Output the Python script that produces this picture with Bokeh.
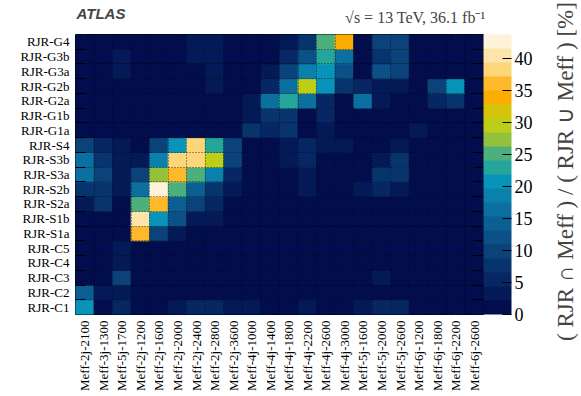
from math import pi
from bokeh.plotting import figure
from bokeh.models import (ColumnDataSource, LinearColorMapper, ColorBar, FixedTicker,
                          LinearAxis, Label, Range1d, Grid)
from bokeh.transform import transform
from bokeh.embed import file_html
from bokeh.resources import INLINE

x_labels = ["Meff-2j-2100", "Meff-3j-1300", "Meff-5j-1700", "Meff-2j-1200", "Meff-2j-1600",
            "Meff-2j-2000", "Meff-2j-2400", "Meff-2j-2800", "Meff-2j-3600", "Meff-4j-1000",
            "Meff-4j-1400", "Meff-4j-1800", "Meff-4j-2200", "Meff-4j-2600", "Meff-4j-3000",
            "Meff-5j-1600", "Meff-5j-2000", "Meff-5j-2600", "Meff-6j-1200", "Meff-6j-1800",
            "Meff-6j-2200", "Meff-6j-2600"]

y_labels = ["RJR-C1", "RJR-C2", "RJR-C3", "RJR-C4", "RJR-C5", "RJR-S1a", "RJR-S1b",
            "RJR-S2a", "RJR-S2b", "RJR-S3a", "RJR-S3b", "RJR-S4", "RJR-G1a", "RJR-G1b",
            "RJR-G2a", "RJR-G2b", "RJR-G3a", "RJR-G3b", "RJR-G4"]

# overlap [%] per RJR region, one value per Meff region (x_labels order)
rjr_c1  = [20.5, 2, 5.5, 1, 1, 3, 5.5, 5, 4, 3, 2, 2, 3, 2, 2, 3, 6, 6, 1, 1, 1, 1]
rjr_c2  = [14.3, 3, 4, 1, 1, 1, 1, 1, 1, 1, 1, 1, 1, 1, 1, 1, 2, 2, 1, 1, 1, 1]
rjr_c3  = [1, 2, 9, 1, 1, 1, 1, 1, 1, 1, 1, 1, 1, 1, 1, 1, 3, 1, 1, 1, 1, 1]
rjr_c4  = [1, 2, 4, 1, 1, 1, 1, 1, 1, 1, 1, 1, 1, 1, 1, 1, 2, 1, 1, 1, 1, 1]
rjr_c5  = [1, 2, 4, 1, 1, 1, 1, 1, 1, 1, 1, 1, 1, 1, 1, 1, 1, 1, 1, 1, 1, 1]
rjr_s1a = [2, 2, 2, 36, 10, 4, 2, 2, 1, 1, 1, 1, 1, 1, 1, 1, 1, 1, 1, 1, 1, 1]
rjr_s1b = [2, 2, 2, 40.5, 21, 11, 4, 3, 2, 1, 1, 1, 1, 1, 1, 1, 1, 1, 1, 1, 1, 1]
rjr_s2a = [4, 8, 2, 25, 36, 14.3, 10, 5, 2, 1, 1, 1, 2, 1, 1, 1, 2, 2, 1, 1, 1, 1]
rjr_s2b = [7, 7, 3, 16.5, 43, 25, 14.3, 8, 3, 1, 1, 2, 3, 1, 1, 3, 5, 4, 1, 1, 1, 1]
rjr_s3a = [16.5, 9, 4, 9, 27.4, 36, 25, 18.6, 6, 1, 1, 2, 4, 2, 1, 1, 7, 8, 1, 1, 1, 1]
rjr_s3b = [16.5, 7, 4, 4, 18.6, 38.3, 38.3, 29.6, 10, 1, 2, 3, 6, 2, 2, 1, 4, 7, 1, 1, 1, 1]
rjr_s4  = [10, 6, 3, 2, 10, 21, 38.3, 23, 10, 1, 1, 3, 5.5, 3, 3, 1, 1, 4, 1, 1, 1, 1]
rjr_g1a = [1, 1, 1, 1, 1, 1, 1, 1, 1, 8, 5, 7.5, 1, 3, 1, 1, 1, 1, 3.5, 1, 1, 1]
rjr_g1b = [1, 1, 1, 1, 1, 1, 1, 1, 1, 3, 8, 8.5, 2, 5.5, 1, 1, 1, 1, 1, 1, 1, 1]
rjr_g2a = [1, 1, 1, 1, 1, 1, 1, 1, 1, 3, 16, 23, 15.5, 5, 1, 16, 3, 1, 1, 6, 7, 1]
rjr_g2b = [1, 1, 1, 1, 1, 1, 1, 3, 2, 1, 6, 17, 29.6, 21, 7, 6, 3, 3, 1, 10, 21, 1]
rjr_g3a = [1, 1, 3, 1, 1, 1, 1, 3, 2, 1, 3, 9, 18.6, 21, 11, 1, 12, 10, 1, 1, 1, 1]
rjr_g3b = [1, 1, 3, 1, 1, 1, 3, 3, 2, 1, 1, 6, 11, 23, 17, 1, 8, 9, 1, 1, 1, 1]
rjr_g4  = [1, 1, 1, 1, 1, 1, 3, 3, 1, 1, 1, 3, 8, 25, 34, 1, 9, 10, 1, 1, 1, 1]

rows_data = [rjr_c1, rjr_c2, rjr_c3, rjr_c4, rjr_c5, rjr_s1a, rjr_s1b, rjr_s2a, rjr_s2b,
             rjr_s3a, rjr_s3b, rjr_s4, rjr_g1a, rjr_g1b, rjr_g2a, rjr_g2b, rjr_g3a,
             rjr_g3b, rjr_g4]

cbar_ticks = [0, 5, 10, 15, 20, 25, 30, 35, 40]
z_max = 43.8

palette = ["#020d4d", "#041a58", "#062763", "#08346d", "#0a4279", "#0b5086", "#0c5f93",
           "#0b6fa0", "#0a80ac", "#0893b8", "#26a69a", "#4caf7c", "#94c13c", "#bccf16",
           "#d4c40a", "#fcae00", "#fdb92a", "#fdd67a", "#fde4aa", "#fef3d9"]

nx, ny = len(x_labels), len(y_labels)
xs, ys, vs = [], [], []
for j, row in enumerate(rows_data):
    for i, v in enumerate(row):
        xs.append(i)
        ys.append(j)
        vs.append(v)
src = ColumnDataSource(dict(x=xs, y=ys, v=vs))

mapper = LinearColorMapper(palette=palette, low=0, high=z_max)

SERIF = "Liberation Serif"

p = figure(width=580, height=394, output_backend="svg", toolbar_location=None,
           x_range=Range1d(-0.5, nx - 0.5), y_range=Range1d(-0.5, ny - 0.5),
           x_axis_location=None, y_axis_location=None,
           min_border_left=75, min_border_top=31, min_border_right=97, min_border_bottom=78)

p.rect(x="x", y="y", width=1, height=1, source=src,
       fill_color=transform("v", mapper), line_color=transform("v", mapper),
       line_width=0.8)

p.outline_line_color = "black"
p.outline_line_width = 1

x_edges = [i + 0.5 for i in range(nx - 1)]
y_edges = [j + 0.5 for j in range(ny - 1)]

# dotted cell borders
p.add_layout(Grid(dimension=0, ticker=FixedTicker(ticks=x_edges),
                  grid_line_color="black", grid_line_dash="1 2", grid_line_alpha=0.75,
                  level="annotation"))
p.add_layout(Grid(dimension=1, ticker=FixedTicker(ticks=y_edges),
                  grid_line_color="black", grid_line_dash="1 2", grid_line_alpha=0.75,
                  level="annotation"))

# x axis with category labels
xa = LinearAxis(ticker=FixedTicker(ticks=list(range(nx))),
                major_label_overrides={i: lbl for i, lbl in enumerate(x_labels)},
                major_label_orientation=pi / 2, major_label_text_font=SERIF,
                major_label_text_font_size="13px", major_label_text_color="black",
                major_label_standoff=6, major_tick_out=0, major_tick_in=0,
                major_tick_line_color=None, minor_tick_line_color=None,
                minor_tick_out=0, axis_line_color=None)
p.add_layout(xa, "below")

# left: bin-edge ticks then labels
lt = LinearAxis(ticker=FixedTicker(ticks=y_edges),
                major_tick_in=10, major_tick_out=0, minor_tick_out=0,
                major_label_text_font_size="0px",
                major_label_standoff=0, axis_line_color=None, minor_tick_line_color=None,
                major_tick_line_color="black")
p.add_layout(lt, "left")
ya = LinearAxis(ticker=FixedTicker(ticks=list(range(ny))),
                major_label_overrides={j: lbl for j, lbl in enumerate(y_labels)},
                major_label_text_font=SERIF, major_label_text_font_size="13px",
                major_label_text_color="black", major_label_standoff=6,
                major_tick_out=0, major_tick_in=0, minor_tick_out=0,
                major_tick_line_color=None, minor_tick_line_color=None,
                axis_line_color=None)
p.add_layout(ya, "left")

# right: bin-edge ticks then colour bar
rt = LinearAxis(ticker=FixedTicker(ticks=y_edges),
                major_tick_in=10, major_tick_out=0, minor_tick_out=0,
                major_label_text_font_size="0px",
                major_label_standoff=0, axis_line_color=None, minor_tick_line_color=None,
                major_tick_line_color="black")
p.add_layout(rt, "right")

cb = ColorBar(color_mapper=mapper, ticker=FixedTicker(ticks=cbar_ticks), width=28,
              padding=0, margin=1, label_standoff=3, major_tick_in=9, major_tick_out=0,
              major_tick_line_color="black", minor_tick_line_color=None,
              major_label_text_font=SERIF, major_label_text_font_size="18px",
              major_label_text_color="black", bar_line_color=None,
              border_line_color=None, background_fill_color=None)
p.add_layout(cb, "right")

# colour-bar title (right side panel, reads bottom to top)
p.add_layout(Label(x=30, y=143, x_units="screen", y_units="screen", angle=pi / 2,
                   text="( RJR \u2229 Meff ) / ( RJR \u222a Meff ) [%]",
                   text_font=SERIF, text_font_size="23px", text_baseline="middle",
                   text_align="center"), "right")

# header texts (above panel)
p.add_layout(Label(x=410, y=17.5, x_units="screen", y_units="screen",
                   text="\u221as = 13 TeV, 36.1 fb\u207b\u00b9",
                   text_font=SERIF, text_font_size="16px", text_baseline="alphabetic",
                   text_align="right"), "above")
p.add_layout(Label(x=1, y=4, x_units="screen", y_units="screen", text="ATLAS",
                   text_font="Liberation Sans", text_font_style="bold italic",
                   text_font_size="15px", text_baseline="alphabetic", text_align="left"),
             "above")

open("out.html", "w").write(file_html(p, INLINE))
